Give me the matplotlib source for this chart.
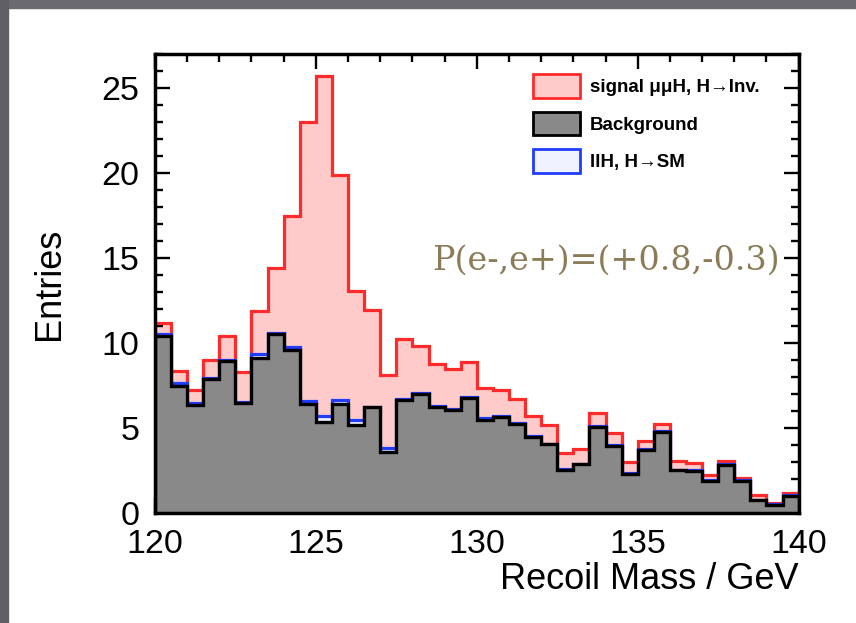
import matplotlib.pyplot as plt
import numpy as np
from matplotlib.patches import Patch, Rectangle
from matplotlib.ticker import MultipleLocator

plt.rcParams['font.family'] = ['Liberation Sans', 'DejaVu Sans']

# bins of 0.5 GeV from 120 to 140
bin_edges = np.arange(120, 140.01, 0.5)

background = [10.4, 7.5, 6.35, 7.9, 8.98, 6.48, 9.13, 10.57, 9.63, 6.42,
              5.4, 6.42, 5.2, 6.23, 3.6, 6.68, 7.0, 6.23, 6.09, 6.78,
              5.48, 5.68, 5.23, 4.5, 4.07, 2.53, 2.89, 5.09, 3.97, 2.34,
              3.71, 4.79, 2.53, 2.48, 1.89, 2.87, 1.89, 0.77, 0.47, 1.0]
llh_sm = [0.17, 0.16, 0.13, 0.06, 0.06, 0.06, 0.24, 0.03, 0.15, 0.16,
          0.34, 0.26, 0.3, 0.05, 0.23, 0.03, 0.07, 0.06, 0.03, 0.04,
          0.14, 0.04, 0.09, 0.03, 0.03, 0.1, 0.04, 0.04, 0.03, 0.04,
          0.1, 0.06, 0.04, 0.05, 0.05, 0.06, 0.05, 0.03, 0.06, 0.06]
signal = [0.63, 0.74, 0.79, 1.08, 1.41, 1.75, 2.52, 3.8, 7.71, 16.42,
          19.96, 13.22, 7.6, 5.67, 4.32, 3.52, 2.79, 2.51, 2.36, 2.1,
          1.73, 1.53, 1.38, 1.22, 1.09, 0.93, 0.88, 0.78, 0.7, 0.65,
          0.45, 0.43, 0.49, 0.44, 0.34, 0.15, 0.16, 0.3, 0.08, 0.14]

labels = ["signal μμH, H→Inv.", "Background", "llH, H→SM"]

bkg = np.array(background)
bkg_llh = bkg + np.array(llh_sm)
total = bkg_llh + np.array(signal)

fig = plt.figure(figsize=(8.56, 6.23), dpi=100)
# grey slide border on top and left
fig.patches.append(Rectangle((0, 1 - 8 / 623), 1, 8 / 623, transform=fig.transFigure,
                             color='#6a6a6f', zorder=0))
fig.patches.append(Rectangle((0, 0), 8 / 856, 1, transform=fig.transFigure,
                             color='#5f5f64', zorder=0))

ax = fig.add_axes([0.181, 0.176, 0.752, 0.737])

# stacked histogram, drawn from the top of the stack down
ax.stairs(total, bin_edges, fill=True, color='#ffcaca', zorder=1)
ax.stairs(total, bin_edges, color='#ff2a2a', lw=2.3, zorder=2)
ax.stairs(bkg_llh, bin_edges, fill=True, color='#eef0ff', zorder=3)
ax.stairs(bkg_llh, bin_edges, color='#1f3cff', lw=2.3, zorder=4)
ax.stairs(bkg, bin_edges, fill=True, color='#898989', zorder=5)
ax.stairs(bkg, bin_edges, color='black', lw=2.4, zorder=6)

ax.set_xlim(120, 140)
ax.set_ylim(0, 27)
ax.xaxis.set_major_locator(MultipleLocator(5))
ax.xaxis.set_minor_locator(MultipleLocator(1))
ax.yaxis.set_major_locator(MultipleLocator(5))
ax.yaxis.set_minor_locator(MultipleLocator(1))
ax.tick_params(which='both', direction='in', top=True, right=True, width=1.7,
               labelsize=24.5, pad=11, zorder=10)
ax.tick_params(which='major', length=11)
ax.tick_params(which='minor', length=6)
for s in ax.spines.values():
    s.set_linewidth(2.5)
    s.set_zorder(10)

ax.set_xlabel("Recoil Mass / GeV", fontsize=26, loc='right')
ax.xaxis.set_label_coords(1.0, -0.105)
ax.set_ylabel("Entries", fontsize=26)
ax.yaxis.set_label_coords(-0.137, 0.5)

ax.text(128.6, 14.3, "P(e-,e+)=(+0.8,-0.3)", family='DejaVu Serif', fontsize=24,
        color='#8c7b57', ha='left', va='baseline', zorder=8)

handles = [Patch(facecolor='#ffcaca', edgecolor='#ff2a2a', lw=2),
           Patch(facecolor='#898989', edgecolor='black', lw=2),
           Patch(facecolor='#f0f2ff', edgecolor='#1f3cff', lw=2)]
leg = ax.legend(handles, labels, loc='upper left', bbox_to_anchor=(0.587, 0.956),
                frameon=False, borderpad=0, borderaxespad=0,
                prop={'weight': 'bold', 'size': 13.5},
                handlelength=2.5, handleheight=1.55, labelspacing=0.75,
                handletextpad=0.55)
leg.set_zorder(9)

fig.savefig("out.png", dpi=100)
